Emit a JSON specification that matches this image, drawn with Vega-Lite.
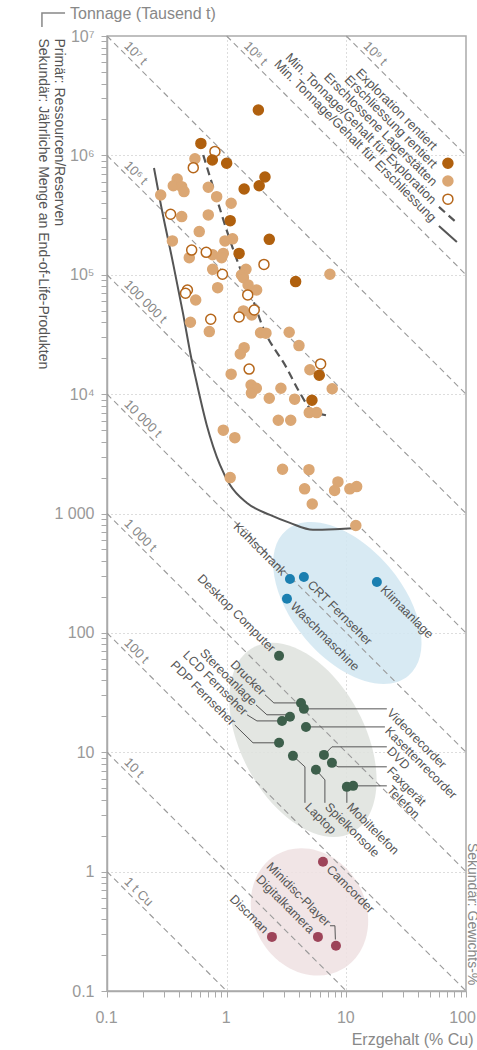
{
  "$schema": "https://vega.github.io/schema/vega-lite/v6.json",
  "width": 359,
  "height": 955,
  "autosize": {"type": "none"},
  "padding": {"left": 107, "top": 36, "right": 11, "bottom": 59},
  "background": "white",
  "config": {"view": {"stroke": "#aaaaaa", "strokeWidth": 1.5}, "font": "Liberation Sans"},
  "datasets": {
    "clusters": [
      {"grp": "A", "g": 10.2, "t": 178},
      {"grp": "B", "g": 4.34, "t": 12.7},
      {"grp": "C", "g": 4.92, "t": 0.46}
    ],
    "isolines": [
      {"c": "1", "g": 0.1, "t": 1}, {"c": "1", "g": 1, "t": 0.1},
      {"c": "10", "g": 0.1, "t": 10}, {"c": "10", "g": 10, "t": 0.1},
      {"c": "100", "g": 0.1, "t": 100}, {"c": "100", "g": 100, "t": 0.1},
      {"c": "1e3", "g": 0.1, "t": 1000}, {"c": "1e3", "g": 100, "t": 1},
      {"c": "1e4", "g": 0.1, "t": 10000}, {"c": "1e4", "g": 100, "t": 10},
      {"c": "1e5", "g": 0.1, "t": 100000}, {"c": "1e5", "g": 100, "t": 100},
      {"c": "1e6", "g": 0.1, "t": 1000000}, {"c": "1e6", "g": 100, "t": 1000},
      {"c": "1e7", "g": 0.1, "t": 10000000}, {"c": "1e7", "g": 100, "t": 10000},
      {"c": "1e8", "g": 1, "t": 10000000}, {"c": "1e8", "g": 100, "t": 100000},
      {"c": "1e9", "g": 10, "t": 10000000}, {"c": "1e9", "g": 100, "t": 1000000}
    ],
    "isoLabels": [
      {"g": 0.13, "t": 7690000, "label": "10⁷ t"},
      {"g": 1.3, "t": 7690000, "label": "10⁸ t"},
      {"g": 13, "t": 7690000, "label": "10⁹ t"},
      {"g": 0.13, "t": 769000, "label": "10⁶ t"},
      {"g": 0.13, "t": 76900, "label": "100 000 t"},
      {"g": 0.13, "t": 7690, "label": "10 000 t"},
      {"g": 0.13, "t": 769, "label": "1 000 t"},
      {"g": 0.13, "t": 76.9, "label": "100 t"},
      {"g": 0.13, "t": 7.69, "label": "10 t"},
      {"g": 0.13, "t": 0.769, "label": "1 t Cu"}
    ],
    "devCurve": [
      {"g": 0.247, "t": 784000}, {"g": 0.277, "t": 423000}, {"g": 0.356, "t": 125600},
      {"g": 0.431, "t": 47900}, {"g": 0.51, "t": 19300}, {"g": 0.543, "t": 14500},
      {"g": 0.681, "t": 5520}, {"g": 0.879, "t": 2550}, {"g": 1.065, "t": 1740},
      {"g": 1.469, "t": 1230}, {"g": 2.3, "t": 973}, {"g": 3.38, "t": 834},
      {"g": 5.26, "t": 730}, {"g": 8.84, "t": 743}, {"g": 13.0, "t": 758}
    ],
    "explCurve": [
      {"g": 0.637, "t": 1008000}, {"g": 0.808, "t": 466000}, {"g": 1.031, "t": 215500},
      {"g": 1.291, "t": 114000}, {"g": 1.566, "t": 72200}, {"g": 2.02, "t": 35800},
      {"g": 3.17, "t": 16600}, {"g": 4.1, "t": 10200}, {"g": 5.13, "t": 7380},
      {"g": 7.29, "t": 6570}
    ],
    "deposits": [
      {"typ": "ersch", "g": 0.543, "t": 938000}, {"typ": "ersch", "g": 0.386, "t": 634000},
      {"typ": "ersch", "g": 0.358, "t": 557000}, {"typ": "ersch", "g": 0.421, "t": 547000},
      {"typ": "ersch", "g": 0.44, "t": 497000}, {"typ": "ersch", "g": 0.281, "t": 466000},
      {"typ": "ersch", "g": 0.702, "t": 541000}, {"typ": "ersch", "g": 0.825, "t": 451000},
      {"typ": "ersch", "g": 1.09, "t": 397000}, {"typ": "ersch", "g": 0.421, "t": 307000},
      {"typ": "ersch", "g": 0.702, "t": 317000}, {"typ": "ersch", "g": 0.59, "t": 230000},
      {"typ": "ersch", "g": 0.352, "t": 192000}, {"typ": "ersch", "g": 0.968, "t": 192000},
      {"typ": "ersch", "g": 1.12, "t": 200000}, {"typ": "ersch", "g": 0.487, "t": 139000},
      {"typ": "ersch", "g": 0.764, "t": 147000}, {"typ": "ersch", "g": 0.937, "t": 151000},
      {"typ": "ersch", "g": 0.908, "t": 139000}, {"typ": "ersch", "g": 0.764, "t": 111000},
      {"typ": "ersch", "g": 1.45, "t": 111000}, {"typ": "ersch", "g": 1.33, "t": 99600},
      {"typ": "ersch", "g": 1.38, "t": 94600}, {"typ": "ersch", "g": 7.29, "t": 101000},
      {"typ": "ersch", "g": 0.841, "t": 78000}, {"typ": "ersch", "g": 0.551, "t": 61500},
      {"typ": "ersch", "g": 1.51, "t": 82200}, {"typ": "ersch", "g": 1.78, "t": 74600},
      {"typ": "ersch", "g": 1.38, "t": 49800}, {"typ": "ersch", "g": 1.62, "t": 46100},
      {"typ": "ersch", "g": 0.498, "t": 40000}, {"typ": "ersch", "g": 0.716, "t": 33400},
      {"typ": "ersch", "g": 1.92, "t": 32700}, {"typ": "ersch", "g": 2.13, "t": 32400},
      {"typ": "ersch", "g": 3.33, "t": 33000}, {"typ": "ersch", "g": 4.02, "t": 25500},
      {"typ": "ersch", "g": 1.4, "t": 24500}, {"typ": "ersch", "g": 1.3, "t": 21700},
      {"typ": "ersch", "g": 4.96, "t": 16000}, {"typ": "ersch", "g": 1.09, "t": 14700},
      {"typ": "ersch", "g": 1.6, "t": 11900}, {"typ": "ersch", "g": 1.77, "t": 11200},
      {"typ": "ersch", "g": 1.61, "t": 10200}, {"typ": "ersch", "g": 2.84, "t": 11200},
      {"typ": "ersch", "g": 2.27, "t": 9240}, {"typ": "ersch", "g": 3.7, "t": 9080},
      {"typ": "ersch", "g": 7.62, "t": 11100}, {"typ": "ersch", "g": 4.9, "t": 7000},
      {"typ": "ersch", "g": 5.65, "t": 7000}, {"typ": "ersch", "g": 2.7, "t": 6040},
      {"typ": "ersch", "g": 3.43, "t": 6040}, {"typ": "ersch", "g": 0.937, "t": 4990},
      {"typ": "ersch", "g": 1.17, "t": 4320}, {"typ": "ersch", "g": 1.07, "t": 2000},
      {"typ": "ersch", "g": 2.93, "t": 2350}, {"typ": "ersch", "g": 4.87, "t": 2330},
      {"typ": "ersch", "g": 4.48, "t": 1610}, {"typ": "ersch", "g": 5.19, "t": 1200},
      {"typ": "ersch", "g": 8.51, "t": 1840}, {"typ": "ersch", "g": 7.98, "t": 1560},
      {"typ": "ersch", "g": 10.7, "t": 1610}, {"typ": "ersch", "g": 12.2, "t": 1680},
      {"typ": "ersch", "g": 12.0, "t": 793},
      {"typ": "lager", "g": 0.798, "t": 1080000}, {"typ": "lager", "g": 0.526, "t": 789000},
      {"typ": "lager", "g": 0.34, "t": 321000}, {"typ": "lager", "g": 0.51, "t": 161000},
      {"typ": "lager", "g": 0.675, "t": 154000}, {"typ": "lager", "g": 2.05, "t": 122000},
      {"typ": "lager", "g": 0.922, "t": 101000}, {"typ": "lager", "g": 0.47, "t": 74600},
      {"typ": "lager", "g": 0.453, "t": 70000}, {"typ": "lager", "g": 1.5, "t": 67800},
      {"typ": "lager", "g": 1.7, "t": 50700}, {"typ": "lager", "g": 1.27, "t": 44300},
      {"typ": "lager", "g": 0.736, "t": 42400}, {"typ": "lager", "g": 6.1, "t": 17900},
      {"typ": "lager", "g": 1.54, "t": 16200},
      {"typ": "expl", "g": 1.84, "t": 2400000}, {"typ": "expl", "g": 0.609, "t": 1260000},
      {"typ": "expl", "g": 0.759, "t": 915000}, {"typ": "expl", "g": 1.0, "t": 859000},
      {"typ": "expl", "g": 2.09, "t": 659000}, {"typ": "expl", "g": 1.4, "t": 523000},
      {"typ": "expl", "g": 1.87, "t": 557000}, {"typ": "expl", "g": 1.07, "t": 284000},
      {"typ": "expl", "g": 2.27, "t": 198000}, {"typ": "expl", "g": 1.27, "t": 151000},
      {"typ": "expl", "g": 3.77, "t": 87600}, {"typ": "expl", "g": 5.94, "t": 14400},
      {"typ": "expl", "g": 5.16, "t": 8890}
    ],
    "products": [
      {"name": "Kühlschrank", "g": 3.38, "t": 283, "grp": "A"},
      {"name": "CRT Fernseher", "g": 4.42, "t": 294, "grp": "A"},
      {"name": "Waschmaschine", "g": 3.19, "t": 193, "grp": "A"},
      {"name": "Klimaanlage", "g": 18.0, "t": 267, "grp": "A"},
      {"name": "Desktop Computer", "g": 2.74, "t": 64.2, "grp": "B"},
      {"name": "Drucker", "g": 4.18, "t": 25.9, "grp": "B"},
      {"name": "Videorecorder", "g": 4.42, "t": 23.1, "grp": "B"},
      {"name": "Stereoanlage", "g": 3.38, "t": 19.8, "grp": "B"},
      {"name": "LCD Fernseher", "g": 2.9, "t": 18.3, "grp": "B"},
      {"name": "Kasettenrecorder", "g": 4.6, "t": 16.3, "grp": "B"},
      {"name": "PDP Fernseher", "g": 2.74, "t": 12.0, "grp": "B"},
      {"name": "Laptop", "g": 3.58, "t": 9.33, "grp": "B"},
      {"name": "DVD", "g": 6.5, "t": 9.5, "grp": "B"},
      {"name": "Faxgerät", "g": 7.58, "t": 8.15, "grp": "B"},
      {"name": "Spielkonsole", "g": 5.57, "t": 7.13, "grp": "B"},
      {"name": "Mobiltelefon", "g": 10.1, "t": 5.13, "grp": "B"},
      {"name": "Telefon", "g": 11.4, "t": 5.23, "grp": "B"},
      {"name": "Camcorder", "g": 6.38, "t": 1.21, "grp": "C"},
      {"name": "Discman", "g": 2.39, "t": 0.284, "grp": "C"},
      {"name": "Digitalkamera", "g": 5.79, "t": 0.284, "grp": "C"},
      {"name": "Minidisc-Player", "g": 8.19, "t": 0.239, "grp": "C"}
    ],
    "productLabels": [
      {"name": "Kühlschrank", "g": 3.38, "t": 283, "kind": "direct", "side": "before"},
      {"name": "CRT Fernseher", "g": 4.42, "t": 294, "kind": "direct", "side": "after"},
      {"name": "Waschmaschine", "g": 3.19, "t": 193, "kind": "direct", "side": "after"},
      {"name": "Klimaanlage", "g": 18.0, "t": 267, "kind": "direct", "side": "after"},
      {"name": "Desktop Computer", "g": 2.74, "t": 64.2, "kind": "direct", "side": "before"},
      {"name": "Camcorder", "g": 6.38, "t": 1.21, "kind": "direct", "side": "after"},
      {"name": "Discman", "g": 2.39, "t": 0.284, "kind": "direct", "side": "before"},
      {"name": "Digitalkamera", "g": 5.79, "t": 0.284, "kind": "direct", "side": "before"},
      {"name": "Drucker", "g": 2.09, "t": 30.3, "kind": "leader", "side": "before"},
      {"name": "Stereoanlage", "g": 1.76, "t": 24.9, "kind": "leader", "side": "before"},
      {"name": "LCD Fernseher", "g": 1.48, "t": 20.6, "kind": "leader", "side": "before"},
      {"name": "PDP Fernseher", "g": 1.17, "t": 16.9, "kind": "leader", "side": "before"},
      {"name": "Videorecorder", "g": 21.8, "t": 23.1, "kind": "leader", "side": "after"},
      {"name": "Kasettenrecorder", "g": 21.0, "t": 16.3, "kind": "leader", "side": "after"},
      {"name": "DVD", "g": 21.8, "t": 11.1, "kind": "leader", "side": "after"},
      {"name": "Faxgerät", "g": 21.8, "t": 7.55, "kind": "leader", "side": "after"},
      {"name": "Telefon", "g": 21.8, "t": 5.23, "kind": "leader", "side": "after"},
      {"name": "Laptop", "g": 4.51, "t": 3.77, "kind": "leader", "side": "after"},
      {"name": "Spielkonsole", "g": 6.62, "t": 3.77, "kind": "leader", "side": "after"},
      {"name": "Mobiltelefon", "g": 10.1, "t": 3.77, "kind": "leader", "side": "after"},
      {"name": "Minidisc-Player", "g": 7.3, "t": 0.352, "kind": "leader", "side": "before"}
    ],
    "leaders": [
      {"name": "Drucker", "o": 1, "g": 2.09, "t": 30.3}, {"name": "Drucker", "o": 2, "g": 2.48, "t": 25.9}, {"name": "Drucker", "o": 3, "g": 4.18, "t": 25.9},
      {"name": "Stereoanlage", "o": 1, "g": 1.76, "t": 24.9}, {"name": "Stereoanlage", "o": 2, "g": 2.17, "t": 20.6}, {"name": "Stereoanlage", "o": 3, "g": 3.3, "t": 20.6},
      {"name": "LCD Fernseher", "o": 1, "g": 1.48, "t": 20.6}, {"name": "LCD Fernseher", "o": 2, "g": 1.79, "t": 18.3}, {"name": "LCD Fernseher", "o": 3, "g": 2.9, "t": 18.3},
      {"name": "PDP Fernseher", "o": 1, "g": 1.17, "t": 16.9}, {"name": "PDP Fernseher", "o": 2, "g": 1.66, "t": 12.0}, {"name": "PDP Fernseher", "o": 3, "g": 2.74, "t": 12.0},
      {"name": "Videorecorder", "o": 1, "g": 4.42, "t": 23.1}, {"name": "Videorecorder", "o": 2, "g": 21.8, "t": 23.1},
      {"name": "Kasettenrecorder", "o": 1, "g": 4.6, "t": 16.3}, {"name": "Kasettenrecorder", "o": 2, "g": 21.0, "t": 16.3},
      {"name": "DVD", "o": 1, "g": 6.5, "t": 9.5}, {"name": "DVD", "o": 2, "g": 7.58, "t": 11.1}, {"name": "DVD", "o": 3, "g": 21.8, "t": 11.1},
      {"name": "Faxgerät", "o": 1, "g": 7.58, "t": 8.15}, {"name": "Faxgerät", "o": 2, "g": 8.51, "t": 7.55}, {"name": "Faxgerät", "o": 3, "g": 21.8, "t": 7.55},
      {"name": "Telefon", "o": 1, "g": 11.4, "t": 5.23}, {"name": "Telefon", "o": 2, "g": 21.8, "t": 5.23},
      {"name": "Laptop", "o": 1, "g": 3.58, "t": 9.33}, {"name": "Laptop", "o": 2, "g": 4.51, "t": 7.55}, {"name": "Laptop", "o": 3, "g": 4.51, "t": 3.77},
      {"name": "Spielkonsole", "o": 1, "g": 5.57, "t": 7.13}, {"name": "Spielkonsole", "o": 2, "g": 6.62, "t": 5.87}, {"name": "Spielkonsole", "o": 3, "g": 6.62, "t": 3.77},
      {"name": "Mobiltelefon", "o": 1, "g": 10.1, "t": 5.13}, {"name": "Mobiltelefon", "o": 2, "g": 10.1, "t": 3.77},
      {"name": "Minidisc-Player", "o": 1, "g": 7.3, "t": 0.352}, {"name": "Minidisc-Player", "o": 2, "g": 8.03, "t": 0.352}, {"name": "Minidisc-Player", "o": 3, "g": 8.1, "t": 0.27}
    ],
    "legendSymbols": [
      {"typ": "expl", "g": 70.6, "t": 860000},
      {"typ": "ersch", "g": 70.6, "t": 610000},
      {"typ": "lager", "g": 70.6, "t": 430000}
    ],
    "legendDashed": [{"g": 59.4, "t": 370000}, {"g": 83.9, "t": 272000}],
    "legendSolid": [{"g": 59.4, "t": 256000}, {"g": 83.9, "t": 188000}],
    "legendLabels": [
      {"g": 55, "t": 1153000, "label": "Exploration rentiert"},
      {"g": 55, "t": 815000, "label": "Erschliessung rentiert"},
      {"g": 55, "t": 576000, "label": "Erschlossene Lagerstätten"},
      {"g": 54, "t": 407000, "label": "Min. Tonnage/Gehalt für Exploration"},
      {"g": 54, "t": 288000, "label": "Min. Tonnage/Gehalt für Erschliessung"}
    ],
    "topTitle": [{"g": 0.1, "t": 10000000, "label": "Tonnage (Tausend t)"}],
    "bracket": [
      {"o": 1, "g": 0.0446, "t": 15580000},
      {"o": 2, "g": 0.0286, "t": 15580000},
      {"o": 3, "g": 0.0286, "t": 11890000}
    ],
    "rightTitle": [{"g": 100, "t": 1.74, "label": "Sekundär: Gewichts-%"}]
  },
  "encoding": {
    "x": {
      "field": "g", "type": "quantitative",
      "scale": {"type": "log", "domain": [0.1, 100], "nice": false},
      "axis": {
        "values": [0.1, 0.2, 0.3, 0.4, 0.5, 0.6, 0.7, 0.8, 0.9, 1, 2, 3, 4, 5, 6, 7, 8, 9, 10, 20, 30, 40, 50, 60, 70, 80, 90, 100],
        "labelExpr": "datum.value == 0.1 ? '0.1' : datum.value == 1 ? '1' : datum.value == 10 ? '10' : datum.value == 100 ? '100' : ''",
        "labelOverlap": false, "labelFlush": false, "labelBound": false,
        "labelFontSize": 16, "labelColor": "#999999", "labelPadding": 12, "labelFont": "Liberation Sans",
        "labelOffset": {"condition": {"test": "datum.value == 100", "value": -4}, "value": -1},
        "tickColor": "#aaaaaa", "tickSize": 6, "tickWidth": 1,
        "domainColor": "#aaaaaa", "domainWidth": 1.5,
        "grid": true, "gridColor": "#bbbbbb", "gridDash": [1, 3], "gridWidth": 1,
        "gridOpacity": {"condition": {"test": "indexof([1, 10], datum.value) >= 0", "value": 1}, "value": 0},
        "title": "Erzgehalt (% Cu)", "titleFontSize": 16, "titleFontWeight": "normal", "titleColor": "#888888", "titleFont": "Liberation Sans",
        "titleX": 366, "titleY": 53, "titleAlign": "right", "titleBaseline": "alphabetic"
      }
    },
    "y": {
      "field": "t", "type": "quantitative",
      "scale": {"type": "log", "domain": [0.1, 10000000], "nice": false},
      "axis": {
        "values": [0.1, 0.2, 0.3, 0.4, 0.5, 0.6, 0.7, 0.8, 0.9, 1, 2, 3, 4, 5, 6, 7, 8, 9, 10, 20, 30, 40, 50, 60, 70, 80, 90, 100, 200, 300, 400, 500, 600, 700, 800, 900, 1000, 2000, 3000, 4000, 5000, 6000, 7000, 8000, 9000, 10000, 20000, 30000, 40000, 50000, 60000, 70000, 80000, 90000, 100000, 200000, 300000, 400000, 500000, 600000, 700000, 800000, 900000, 1000000, 2000000, 3000000, 4000000, 5000000, 6000000, 7000000, 8000000, 9000000, 10000000],
        "labelExpr": "datum.value == 10000000 ? '10⁷' : datum.value == 1000000 ? '10⁶' : datum.value == 100000 ? '10⁵' : datum.value == 10000 ? '10⁴' : datum.value == 1000 ? '1 000' : datum.value == 100 ? '100' : datum.value == 10 ? '10' : datum.value == 1 ? '1' : datum.value == 0.1 ? '0.1' : ''",
        "labelOverlap": false, "labelBound": false,
        "labelFontSize": 16, "labelColor": "#999999", "labelPadding": 7, "labelFont": "Liberation Sans",
        "tickColor": "#aaaaaa", "tickSize": 6, "tickWidth": 1,
        "domainColor": "#aaaaaa", "domainWidth": 1.5,
        "grid": true, "gridColor": "#bbbbbb", "gridDash": [1, 3], "gridWidth": 1,
        "gridOpacity": {"condition": {"test": "indexof([1, 10, 100, 1000, 10000, 100000, 1000000], datum.value) >= 0", "value": 1}, "value": 0},
        "title": ["Primär: Ressourcen/Reserven", "Sekundär: Jährliche Menge an End-of-Life-Produkten"],
        "titleFontSize": 14, "titleFontWeight": "normal", "titleColor": "#555555", "titleFont": "Liberation Sans",
        "titleAngle": 90, "titleAlign": "left", "titleBaseline": "alphabetic", "titleLineHeight": 16,
        "titleX": -53, "titleY": 2
      }
    }
  },
  "layer": [
    {
      "data": {"name": "clusters"},
      "transform": [{"filter": "datum.grp == 'A'"}],
      "mark": {"type": "point", "shape": "M1,0C1,0.3203,0.5523,0.58,0,0.58C-0.5523,0.58,-1,0.3203,-1,0C-1,-0.3203,-0.5523,-0.58,0,-0.58C0.5523,-0.58,1,-0.3203,1,0Z", "size": 36100, "angle": 50, "filled": true, "color": "#d3e7f1", "opacity": 0.88, "strokeWidth": 0}
    },
    {
      "data": {"name": "clusters"},
      "transform": [{"filter": "datum.grp == 'B'"}],
      "mark": {"type": "point", "shape": "M1,0C1,0.3259,0.5523,0.59,0,0.59C-0.5523,0.59,-1,0.3259,-1,0C-1,-0.3259,-0.5523,-0.59,0,-0.59C0.5523,-0.59,1,-0.3259,1,0Z", "size": 44100, "angle": 62, "filled": true, "color": "#dfe3de", "opacity": 0.88, "strokeWidth": 0}
    },
    {
      "data": {"name": "clusters"},
      "transform": [{"filter": "datum.grp == 'C'"}],
      "mark": {"type": "point", "shape": "M1,0C1,0.4695,0.5523,0.85,0,0.85C-0.5523,0.85,-1,0.4695,-1,0C-1,-0.4695,-0.5523,-0.85,0,-0.85C0.5523,-0.85,1,-0.4695,1,0Z", "size": 17424, "angle": 60, "filled": true, "color": "#efe1e3", "opacity": 0.88, "strokeWidth": 0}
    },
    {
      "data": {"name": "isolines"},
      "mark": {"type": "line", "strokeDash": [6, 4], "color": "#9a9a9a", "strokeWidth": 1.1},
      "encoding": {"detail": {"field": "c", "type": "nominal"}}
    },
    {
      "data": {"name": "isoLabels"},
      "mark": {"type": "text", "align": "left", "baseline": "middle", "angle": 45, "dy": -8, "fontSize": 13, "color": "#888888", "font": "Liberation Sans"},
      "encoding": {"text": {"field": "label"}}
    },
    {
      "data": {"name": "devCurve"},
      "mark": {"type": "line", "interpolate": "monotone", "color": "#555555", "strokeWidth": 2},
      "encoding": {}
    },
    {
      "data": {"name": "explCurve"},
      "mark": {"type": "line", "interpolate": "monotone", "color": "#555555", "strokeWidth": 2.2, "strokeDash": [8, 5]},
      "encoding": {}
    },
    {
      "data": {"name": "leaders"},
      "mark": {"type": "line", "color": "#555555", "strokeWidth": 1},
      "encoding": {"detail": {"field": "name", "type": "nominal"}, "order": {"field": "o", "type": "quantitative"}}
    },
    {
      "data": {"name": "deposits"},
      "mark": {"type": "point", "filled": true, "size": 100, "strokeWidth": 1.5, "opacity": 1},
      "encoding": {
        "fill": {"field": "typ", "type": "nominal", "scale": {"domain": ["expl", "ersch", "lager"], "range": ["#b0600e", "#dba774", "#ffffff"]}, "legend": null},
        "stroke": {"field": "typ", "type": "nominal", "scale": {"domain": ["expl", "ersch", "lager"], "range": ["#b0600e", "#dba774", "#b5661a"]}, "legend": null}
      }
    },
    {
      "data": {"name": "legendSymbols"},
      "mark": {"type": "point", "filled": true, "size": 100, "strokeWidth": 1.5, "opacity": 1},
      "encoding": {
        "fill": {"field": "typ", "type": "nominal", "legend": null},
        "stroke": {"field": "typ", "type": "nominal", "legend": null}
      }
    },
    {
      "data": {"name": "legendDashed"},
      "mark": {"type": "line", "color": "#555555", "strokeWidth": 2.2, "strokeDash": [8, 5]},
      "encoding": {}
    },
    {
      "data": {"name": "legendSolid"},
      "mark": {"type": "line", "color": "#555555", "strokeWidth": 2},
      "encoding": {}
    },
    {
      "data": {"name": "legendLabels"},
      "mark": {"type": "text", "align": "right", "baseline": "middle", "angle": 45, "fontSize": 13, "color": "#555555", "font": "Liberation Sans"},
      "encoding": {"text": {"field": "label"}}
    },
    {
      "data": {"name": "products"},
      "mark": {"type": "point", "filled": true, "size": 100, "opacity": 1},
      "encoding": {
        "color": {"field": "grp", "type": "nominal", "scale": {"domain": ["A", "B", "C"], "range": ["#1b7fb0", "#3d5f4b", "#9d4459"]}, "legend": null}
      }
    },
    {
      "data": {"name": "productLabels"},
      "transform": [{"filter": "datum.kind == 'direct' && datum.side == 'before'"}],
      "mark": {"type": "text", "align": "right", "baseline": "middle", "angle": 45, "dx": -8, "fontSize": 12.5, "color": "#555555", "font": "Liberation Sans"},
      "encoding": {"text": {"field": "name"}}
    },
    {
      "data": {"name": "productLabels"},
      "transform": [{"filter": "datum.kind == 'direct' && datum.side == 'after'"}],
      "mark": {"type": "text", "align": "left", "baseline": "middle", "angle": 45, "dx": 8, "fontSize": 12.5, "color": "#555555", "font": "Liberation Sans"},
      "encoding": {"text": {"field": "name"}}
    },
    {
      "data": {"name": "productLabels"},
      "transform": [{"filter": "datum.kind == 'leader' && datum.side == 'before'"}],
      "mark": {"type": "text", "align": "right", "baseline": "middle", "angle": 45, "dx": -2, "fontSize": 12.5, "color": "#555555", "font": "Liberation Sans"},
      "encoding": {"text": {"field": "name"}}
    },
    {
      "data": {"name": "productLabels"},
      "transform": [{"filter": "datum.kind == 'leader' && datum.side == 'after'"}],
      "mark": {"type": "text", "align": "left", "baseline": "middle", "angle": 45, "dx": 3, "fontSize": 12.5, "color": "#555555", "font": "Liberation Sans"},
      "encoding": {"text": {"field": "name"}}
    },
    {
      "data": {"name": "topTitle"},
      "mark": {"type": "text", "align": "left", "baseline": "alphabetic", "dx": -37, "dy": -17, "fontSize": 16, "color": "#888888", "font": "Liberation Sans"},
      "encoding": {"text": {"field": "label"}}
    },
    {
      "data": {"name": "bracket"},
      "mark": {"type": "line", "color": "#888888", "strokeWidth": 1.5},
      "encoding": {"order": {"field": "o", "type": "quantitative"}}
    },
    {
      "data": {"name": "rightTitle"},
      "mark": {"type": "text", "align": "left", "baseline": "alphabetic", "angle": 90, "dy": -2, "fontSize": 14, "color": "#888888", "font": "Liberation Sans"},
      "encoding": {"text": {"field": "label"}}
    }
  ]
}
